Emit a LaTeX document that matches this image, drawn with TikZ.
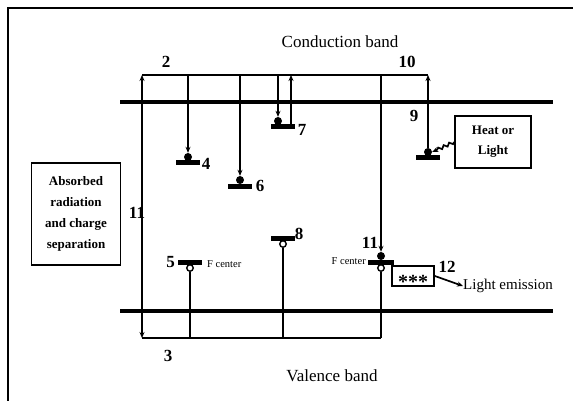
\documentclass[tikz,border=0pt]{standalone}
\usepackage{fontspec}
\setmainfont{Liberation Serif}
\usetikzlibrary{arrows.meta,decorations.pathmorphing}
\begin{document}
\begin{tikzpicture}[x=1pt,y=-1pt,
  band/.style={line width=4pt},
  thinln/.style={line width=1.7pt},
  tipend/.style={-{Stealth[length=6pt,width=5pt]}},
  trapbar/.style={fill=black,minimum width=24pt,minimum height=5pt,inner sep=0pt},
  electron/.style={circle,fill=black,minimum size=8pt,inner sep=0pt},
  hole/.style={circle,draw,line width=1.4pt,fill=white,minimum size=6.5pt,inner sep=0pt},
  lbl/.style={font=\fontsize{17}{17}\selectfont\bfseries,inner sep=0pt},
  bandlbl/.style={font=\fontsize{17}{17}\selectfont,inner sep=0pt},
  small/.style={font=\fontsize{10.5}{10.5}\selectfont,inner sep=0pt},
  boxtext/.style={draw,line width=1.7pt,align=center,font=\fontsize{13}{21}\selectfont\bfseries}]
\useasboundingbox (0,0) rectangle (573,401);
% frame
\draw[line width=1.7pt] (8,401) -- (8,8) -- (573,8);
% bands
\coordinate (cbL) at (120,102); \coordinate (cbR) at (553,102);
\coordinate (vbL) at (120,311); \coordinate (vbR) at (553,311);
\draw[band] (cbL) -- (cbR);
\draw[band] (vbL) -- (vbR);
\node[bandlbl] (cb) at (340,42) {Conduction band};
\node[bandlbl] (vb) at (332,376) {Valence band};
% thin levels
\coordinate (u1) at (142,75); \coordinate (u2) at (428,75);
\coordinate (l1) at (142,338); \coordinate (l2) at (381,338);
\draw[thinln] (u1) -- (u2);
\draw[thinln] (l1) -- (l2);
\node[lbl] (n2) at (166,62) {2};
\node[lbl] (n10) at (407,62) {10};
\node[lbl] (n3) at (168,356) {3};
\node[lbl] (n9) at (414,116) {9};
% transition 1
\draw[thinln,{Stealth[length=6pt,width=5pt]}-{Stealth[length=6pt,width=5pt]}] (l1) -- (u1);
\node[lbl] (n1) at (137,213) {11};
% absorbed box
\node[boxtext,minimum width=89pt,minimum height=102pt] (abs) at (76,214) {Absorbed\\radiation\\and charge\\separation};
% trap 4
\node[trapbar] (b4) at (188,163) {};
\node[electron] (e4) at (188,157) {};
\coordinate (t4) at (188,75);
\draw[thinln,tipend] (t4) -- (e4.north);
\node[lbl] (n4) at (206,164) {4};
% trap 6
\node[trapbar] (b6) at (240,186) {};
\node[electron] (e6) at (240,180) {};
\coordinate (t6) at (240,75);
\draw[thinln,tipend] (t6) -- (e6.north);
\node[lbl] (n6) at (260,186) {6};
% trap 7
\node[trapbar] (b7) at (283,127) {};
\node[electron] (e7) at (278,121) {};
\coordinate (t7a) at (278,75);
\coordinate (t7b) at (291,75);
\coordinate (s7) at (291,125);
\draw[thinln,tipend] (t7a) -- (e7.north);
\draw[thinln,tipend] (s7) -- (t7b);
\node[lbl] (n7) at (302,130) {7};
% trap 9
\node[trapbar] (b9) at (428,158) {};
\node[electron] (e9) at (428,152) {};
\draw[thinln,tipend] (e9.north) -- (u2);
\node[boxtext,minimum width=76pt,minimum height=52pt,font=\fontsize{13}{20}\selectfont\bfseries] (heat) at (493,142) {Heat or\\Light};
\draw[thinln,tipend,decorate,decoration={snake,amplitude=1.5pt,segment length=6pt,post length=5pt}] (heat.west) -- (e9.east);
% trap 5 (hole)
\node[trapbar] (b5) at (190,262) {};
\node[hole] (h5) at (190,268) {};
\coordinate (d5) at (190,338);
\draw[thinln] (h5.south) -- (d5);
\node[lbl,anchor=east] (n5) at (175,262) {5};
\node[small,anchor=west] (fc5) at (207,264) {F center};
% trap 8 (hole)
\node[trapbar] (b8) at (283,238) {};
\node[hole] (h8) at (283,244) {};
\coordinate (d8) at (283,338);
\draw[thinln] (h8.south) -- (d8);
\node[lbl] (n8) at (299,234) {8};
% F center 11
\node[trapbar,minimum width=26pt] (b11) at (381,262) {};
\node[electron] (e11) at (381,256) {};
\node[hole] (h11) at (381,268) {};
\coordinate (t11) at (381,75);
\draw[thinln,tipend] (t11) -- (e11.north);
\draw[thinln] (h11.south) -- (l2);
\node[lbl] (n11) at (370,243) {11};
\node[small,anchor=east] (fc11) at (366,261) {F center};
% light emission
\node[draw,line width=1.7pt,minimum width=42pt,minimum height=20pt,inner sep=0pt,font=\fontsize{20}{20}\selectfont\bfseries] (em) at (413,276) {\raisebox{-9pt}[6pt][0pt]{***}};
\node[lbl] (n12) at (447,267) {12};
\node[anchor=west,inner sep=0pt,font=\fontsize{15}{15}\selectfont] (le) at (463,286) {Light emission};
\draw[thinln,tipend] (em.east) -- (le.west);
\end{tikzpicture}
\end{document}
